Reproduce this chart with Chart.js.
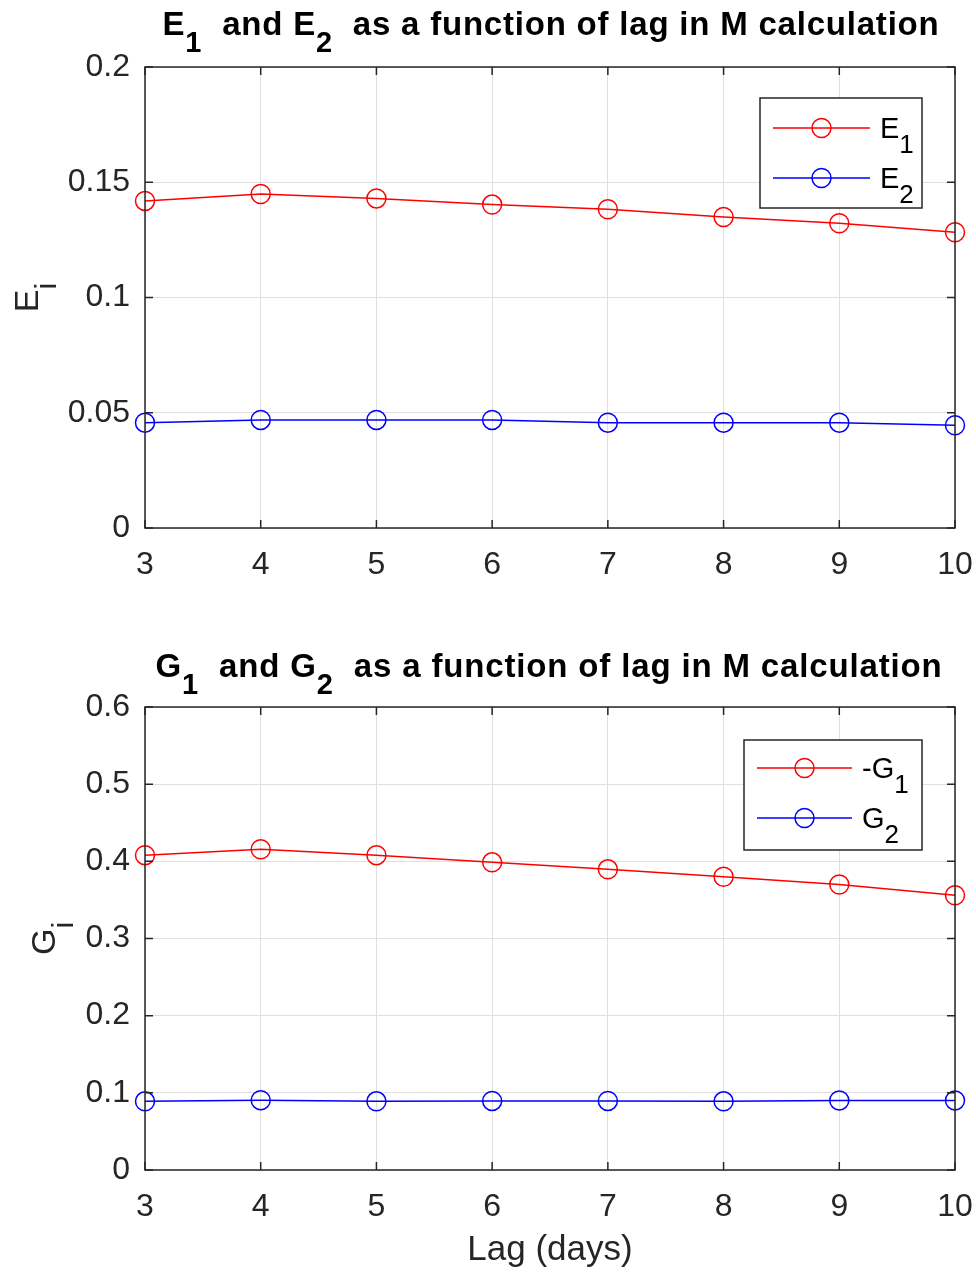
<!DOCTYPE html>
<html>
<head>
<meta charset="utf-8">
<script src="https://cdn.jsdelivr.net/npm/chart.js@4.4.1/dist/chart.umd.min.js"></script>
<style>
  html, body { margin: 0; padding: 0; background: #fff; }
  body { width: 976px; height: 1273px; position: relative; overflow: hidden; }
  .panel { position: absolute; left: 0; width: 976px; }
  #topPanel { top: 0; height: 600px; }
  #bottomPanel { top: 600px; height: 673px; }
</style>
</head>
<body>
<div class="panel" id="topPanel"><canvas id="chartE"></canvas></div>
<div class="panel" id="bottomPanel"><canvas id="chartG"></canvas></div>
<script>
const lags = [3, 4, 5, 6, 7, 8, 9, 10];
const e1Values = [0.1419, 0.1449, 0.1430, 0.1403, 0.1383, 0.1349, 0.1322, 0.1283];
const e2Values = [0.0457, 0.0469, 0.0469, 0.0469, 0.0457, 0.0457, 0.0457, 0.0446];
const negG1Values = [0.408, 0.4156, 0.408, 0.3987, 0.3896, 0.380, 0.370, 0.356];
const g2Values = [0.089, 0.0905, 0.089, 0.0895, 0.0895, 0.089, 0.0902, 0.0902];
const eTicks = [0, 0.05, 0.1, 0.15, 0.2];
const gTicks = [0, 0.1, 0.2, 0.3, 0.4, 0.5, 0.6];

const FONT = "'Liberation Sans', Arial, Helvetica, sans-serif";
const AXIS_COLOR = "#262626";
const GRID_COLOR = "#dfdfdf";
const RED = "#ff0000";
const BLUE = "#0000ff";
const SUB_SCALE = 0.88;

// text made of [text, isSub] parts
function partFont(size, weight, sub) {
  return `${weight} ${sub ? Math.round(size * SUB_SCALE) : size}px ${FONT}`;
}

function richWidth(ctx, parts, size, weight, spacing) {
  let w = 0;
  parts.forEach(([t, sub]) => {
    ctx.font = partFont(size, weight, sub);
    w += ctx.measureText(t).width + spacing * t.length;
  });
  return w;
}

function drawRich(ctx, parts, x, y, size, weight, align, fitWidth) {
  let spacing = 0;
  if (fitWidth) {
    const nChars = parts.reduce((n, [t]) => n + t.length, 0);
    spacing = (fitWidth - richWidth(ctx, parts, size, weight, 0)) / nChars;
  }
  const total = richWidth(ctx, parts, size, weight, spacing);
  let cx = align === "center" ? x - total / 2 : x;
  ctx.textBaseline = "alphabetic";
  ctx.textAlign = "left";
  parts.forEach(([t, sub]) => {
    ctx.font = partFont(size, weight, sub);
    for (const ch of t) {
      ctx.fillText(ch, cx, sub ? y + size * 0.52 : y);
      cx += ctx.measureText(ch).width + spacing;
    }
  });
}

const decorPlugin = {
  id: "decor",
  afterDatasetsDraw(chart) {
    const cfg = chart.options.plugins.decor;
    const { ctx, chartArea: a } = chart;
    const xs = chart.scales.x, ys = chart.scales.y;
    ctx.save();
    // box and inward ticks
    ctx.strokeStyle = AXIS_COLOR;
    ctx.lineWidth = 1.5;
    ctx.strokeRect(a.left, a.top, a.right - a.left, a.bottom - a.top);
    ctx.beginPath();
    xs.ticks.forEach((t) => {
      const px = xs.getPixelForValue(t.value);
      ctx.moveTo(px, a.bottom); ctx.lineTo(px, a.bottom - 8);
      ctx.moveTo(px, a.top); ctx.lineTo(px, a.top + 8);
    });
    ys.ticks.forEach((t) => {
      const py = ys.getPixelForValue(t.value);
      ctx.moveTo(a.left, py); ctx.lineTo(a.left + 8, py);
      ctx.moveTo(a.right, py); ctx.lineTo(a.right - 8, py);
    });
    ctx.stroke();

    // title
    ctx.fillStyle = "#000";
    drawRich(ctx, cfg.title, cfg.titleX, cfg.titleY, 33, "bold", "center", cfg.titleWidth);

    // y axis title (rotated)
    ctx.save();
    ctx.fillStyle = AXIS_COLOR;
    ctx.translate(cfg.yTitleX, (a.top + a.bottom) / 2);
    ctx.rotate(-Math.PI / 2);
    drawRich(ctx, cfg.yTitle, 0, 0, 34, "normal", "center");
    ctx.restore();

    // x axis title
    if (cfg.xTitle) {
      ctx.fillStyle = AXIS_COLOR;
      ctx.font = `35px ${FONT}`;
      ctx.textAlign = "center";
      ctx.textBaseline = "alphabetic";
      ctx.fillText(cfg.xTitle, (a.left + a.right) / 2, cfg.xTitleY);
    }

    // legend box
    const lg = cfg.legend;
    ctx.fillStyle = "#fff";
    ctx.fillRect(lg.x, lg.y, lg.w, lg.h);
    ctx.strokeStyle = AXIS_COLOR;
    ctx.lineWidth = 1.5;
    ctx.strokeRect(lg.x, lg.y, lg.w, lg.h);
    lg.items.forEach((item, i) => {
      const ry = lg.y + lg.rowStart + i * lg.rowGap;
      ctx.strokeStyle = item.color;
      ctx.lineWidth = 1.5;
      ctx.beginPath();
      ctx.moveTo(lg.x + lg.lineStart, ry);
      ctx.lineTo(lg.x + lg.lineEnd, ry);
      ctx.stroke();
      ctx.beginPath();
      ctx.arc(lg.x + (lg.lineStart + lg.lineEnd) / 2, ry, 9.5, 0, Math.PI * 2);
      ctx.stroke();
      ctx.fillStyle = "#000";
      drawRich(ctx, item.label, lg.x + lg.textX, ry + 10, 29, "normal", "left");
    });
    ctx.restore();
  }
};

function makeChart(id, opts) {
  const canvas = document.getElementById(id);
  return new Chart(canvas, {
    type: "line",
    data: {
      datasets: opts.series.map((s) => ({
        data: lags.map((x, i) => ({ x, y: s.values[i] })),
        borderColor: s.color,
        backgroundColor: "transparent",
        borderWidth: 1.5,
        pointRadius: 9.5,
        pointBorderWidth: 1.5,
        pointBackgroundColor: "transparent",
        pointBorderColor: s.color,
        pointHoverRadius: 9.5,
        tension: 0,
        clip: false
      }))
    },
    options: {
      responsive: true,
      maintainAspectRatio: false,
      animation: false,
      events: [],
      layout: { padding: { top: opts.top, right: 21, left: 0, bottom: 0 } },
      scales: {
        x: {
          type: "linear",
          min: 3, max: 10,
          afterFit: (scale) => {
            scale.height = opts.xHeight;
            scale.paddingLeft = 0;
            scale.paddingRight = 0;
          },
          afterBuildTicks: (scale) => { scale.ticks = lags.map((v) => ({ value: v })); },
          grid: { color: GRID_COLOR, lineWidth: 1, drawTicks: false },
          border: { display: false },
          ticks: { color: AXIS_COLOR, font: { family: FONT, size: 32 }, padding: 18, maxRotation: 0, autoSkip: false }
        },
        y: {
          min: opts.yTicks[0], max: opts.yTicks[opts.yTicks.length - 1],
          afterFit: (scale) => {
            scale.width = 145;
            scale.paddingTop = 0;
            scale.paddingBottom = 0;
          },
          afterBuildTicks: (scale) => { scale.ticks = opts.yTicks.map((v) => ({ value: v })); },
          grid: { color: GRID_COLOR, lineWidth: 1, drawTicks: false },
          border: { display: false },
          ticks: {
            color: AXIS_COLOR, font: { family: FONT, size: 32 }, padding: 15,
            callback: (v) => String(+v.toFixed(2))
          }
        }
      },
      plugins: {
        legend: { display: false },
        tooltip: { enabled: false },
        decor: opts.decor
      }
    },
    plugins: [decorPlugin]
  });
}

makeChart("chartE", {
  top: 67,
  xHeight: 600 - 528,
  yTicks: eTicks,
  series: [{ values: e1Values, color: RED }, { values: e2Values, color: BLUE }],
  decor: {
    title: [["E", 0], ["1", 1], ["  and E", 0], ["2", 1], ["  as a function of lag in M calculation", 0]],
    titleX: 551, titleY: 35, titleWidth: 777,
    yTitle: [["E", 0], ["i", 1]],
    yTitleX: 38,
    legend: {
      x: 760, y: 98, w: 162, h: 110, rowStart: 30, rowGap: 50,
      lineStart: 13, lineEnd: 110, textX: 120,
      items: [
        { color: RED, label: [["E", 0], ["1", 1]] },
        { color: BLUE, label: [["E", 0], ["2", 1]] }
      ]
    }
  }
});

makeChart("chartG", {
  top: 107,
  xHeight: 673 - 570,
  yTicks: gTicks,
  series: [{ values: negG1Values, color: RED }, { values: g2Values, color: BLUE }],
  decor: {
    title: [["G", 0], ["1", 1], ["  and G", 0], ["2", 1], ["  as a function of lag in M calculation", 0]],
    titleX: 549, titleY: 77, titleWidth: 787,
    yTitle: [["G", 0], ["i", 1]],
    yTitleX: 55,
    xTitle: "Lag (days)",
    xTitleY: 660,
    legend: {
      x: 744, y: 140, w: 178, h: 110, rowStart: 28, rowGap: 50,
      lineStart: 13, lineEnd: 108, textX: 118,
      items: [
        { color: RED, label: [["-G", 0], ["1", 1]] },
        { color: BLUE, label: [["G", 0], ["2", 1]] }
      ]
    }
  }
});
</script>
</body>
</html>
